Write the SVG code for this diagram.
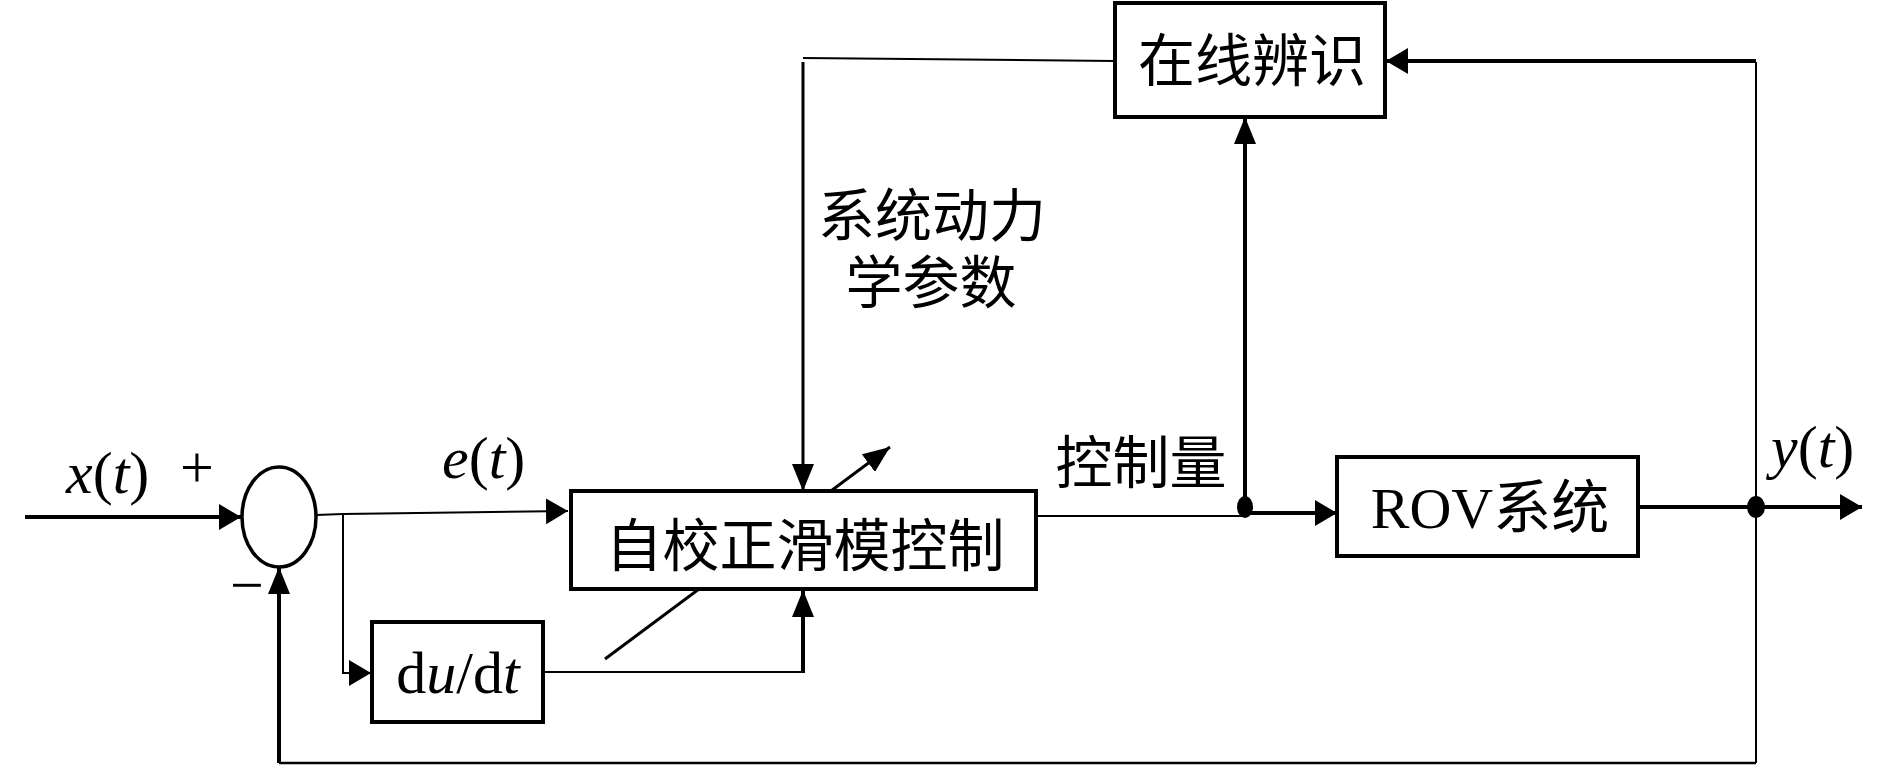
<svg xmlns="http://www.w3.org/2000/svg" width="1890" height="774" viewBox="0 0 1890 774">
<style>
.ln{fill:none;stroke:#000;stroke-width:2}
.thk{fill:none;stroke:#000;stroke-width:4}
.box{fill:#fff;stroke:#000;stroke-width:4}
.lat{font-family:"Liberation Serif","Times New Roman",serif;font-size:60px;fill:#000}
.it{font-style:italic}
.cjk{font-family:"Noto Sans CJK SC",sans-serif;font-size:57px;fill:#000}
.mix{font-family:"Liberation Serif","Noto Sans CJK SC",serif;font-size:58px;fill:#000}
</style>
<defs>
<marker id="ah" viewBox="0 0 22 26" refX="22" refY="13" markerWidth="22" markerHeight="26" markerUnits="userSpaceOnUse" orient="auto"><path d="M0,0 L22,13 L0,26 z" fill="#000"/></marker>
<marker id="ah2" viewBox="0 0 27 22" refX="27" refY="11" markerWidth="27" markerHeight="22" markerUnits="userSpaceOnUse" orient="auto"><path d="M0,0 L27,11 L0,22 z" fill="#000"/></marker>
</defs>
<rect width="1890" height="774" fill="#fff"/>
<g id="connectors">
<path class="thk" d="M25,517 H241" marker-end="url(#ah)"/>
<path class="ln" d="M316,515 L343,514 L568,511" marker-end="url(#ah)"/>
<path class="ln" d="M343,514 V673 H371" marker-end="url(#ah)"/>
<path class="ln" d="M543,672 H803"/>
<path class="thk" d="M803,673 V590" marker-end="url(#ah2)"/>
<path class="ln" d="M1036,516 H1245"/>
<path class="thk" d="M1245,513 H1337" marker-end="url(#ah)"/>
<path class="thk" d="M1245,507 V117" marker-end="url(#ah2)"/>
<path class="thk" d="M1638,507 H1862" marker-end="url(#ah)"/>
<path class="ln" d="M1756,62 V763"/>
<path class="thk" d="M1756,61 H1386" marker-end="url(#ah)"/>
<path class="ln" d="M1756,763 H279" style="stroke-width:2.5"/>
<path class="thk" d="M279,763 V567" marker-end="url(#ah2)"/>
<path class="ln" d="M1115,61 L803,58"/>
<path class="ln" d="M803,62 V491" style="stroke-width:3" marker-end="url(#ah2)"/>
<path class="ln" d="M605,659 L890,447" style="stroke-width:3" marker-end="url(#ah2)"/>
<ellipse cx="1245" cy="507" rx="8" ry="11" fill="#000"/>
<ellipse cx="1756" cy="507" rx="9" ry="11" fill="#000"/>
</g>
<g id="sum">
<ellipse cx="279" cy="517" rx="37" ry="50" fill="#fff" stroke="#000" stroke-width="3.5"/>
</g>
<g id="controller">
<rect class="box" x="571" y="491" width="465" height="98"/>
<text class="cjk" x="805" y="566" text-anchor="middle">自校正滑模控制</text>
</g>
<g id="derivative">
<rect class="box" x="372" y="622" width="171" height="100"/>
<text class="lat" x="458" y="693" text-anchor="middle">d<tspan class="it">u</tspan>/d<tspan class="it">t</tspan></text>
</g>
<g id="identifier">
<rect class="box" x="1115" y="3" width="270" height="114"/>
<text class="cjk" x="1252" y="81" text-anchor="middle">在线辨识</text>
</g>
<g id="rov">
<rect class="box" x="1337" y="457" width="301" height="99"/>
<text class="mix" x="1490" y="528" text-anchor="middle">ROV系统</text>
</g>
<g id="labels">
<text class="lat" x="66" y="493"><tspan class="it">x</tspan>(<tspan class="it">t</tspan>)</text>
<text class="lat" x="197" y="487" text-anchor="middle">+</text>
<text class="lat" x="247" y="605" text-anchor="middle">−</text>
<text class="lat" x="442" y="478"><tspan class="it">e</tspan>(<tspan class="it">t</tspan>)</text>
<text class="cjk" text-anchor="middle"><tspan x="932" y="236">系统动力</tspan><tspan x="931" y="303">学参数</tspan></text>
<text class="cjk" x="1141" y="483" text-anchor="middle">控制量</text>
<text class="lat" x="1771" y="467"><tspan class="it">y</tspan>(<tspan class="it">t</tspan>)</text>
</g>
</svg>
